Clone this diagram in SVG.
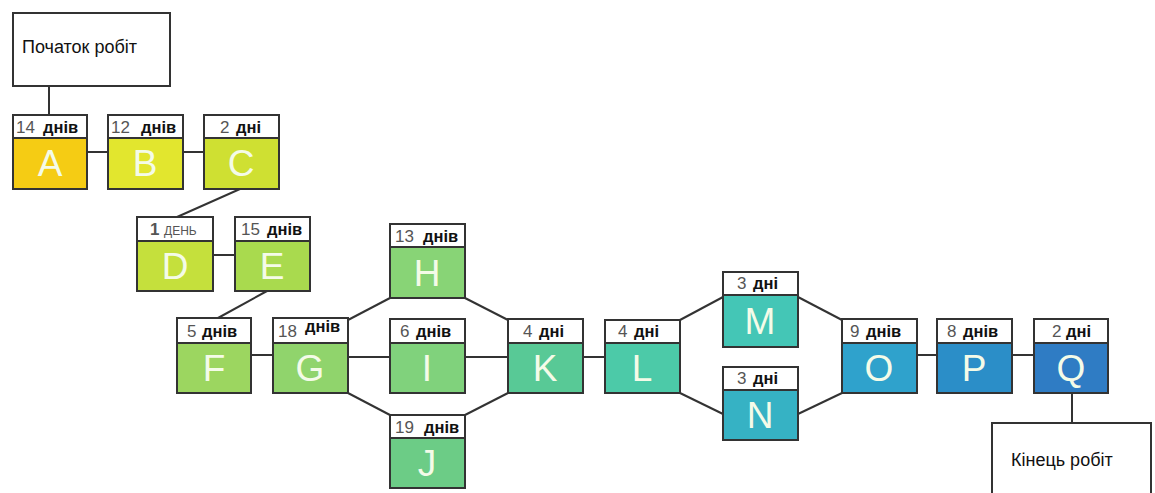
<svg xmlns="http://www.w3.org/2000/svg" width="1155" height="493" viewBox="0 0 1155 493">
<style>
.box{fill:#fff;stroke:#333;stroke-width:2}
.hd{fill:#fff;stroke:#333;stroke-width:2}
.bd{stroke:#333;stroke-width:2}
.num{font-family:"Liberation Sans",Arial,sans-serif;font-size:17px;fill:#555}
.wd{font-family:"Liberation Sans",Arial,sans-serif;font-size:16.5px;font-weight:bold;fill:#111}
.sm{font-family:"Liberation Sans",Arial,sans-serif;font-size:12px;fill:#555}
.let{font-family:"Liberation Sans",Arial,sans-serif;font-size:37px;fill:#f4fbe8;text-anchor:middle}
.lbl{font-family:"Liberation Sans",Arial,sans-serif;font-size:18px;fill:#111}
.cn line{stroke:#333;stroke-width:2}
</style>
<rect width="1155" height="493" fill="#fff"/>
<g class="cn" id="connectors">
<line x1="49" y1="86" x2="49" y2="115"/>
<line x1="88" y1="152" x2="108" y2="152"/>
<line x1="183" y1="152" x2="204" y2="152"/>
<line x1="240" y1="189" x2="177" y2="217"/>
<line x1="212" y1="255" x2="235" y2="255"/>
<line x1="267" y1="291" x2="218" y2="318"/>
<line x1="252" y1="355" x2="273" y2="355"/>
<line x1="348" y1="320" x2="390" y2="298"/>
<line x1="348" y1="357" x2="390" y2="357"/>
<line x1="348" y1="393" x2="390" y2="415"/>
<line x1="465" y1="298" x2="508" y2="320"/>
<line x1="465" y1="357" x2="508" y2="357"/>
<line x1="465" y1="415" x2="508" y2="393"/>
<line x1="583" y1="357" x2="605" y2="357"/>
<line x1="680" y1="320" x2="723" y2="297"/>
<line x1="680" y1="393" x2="723" y2="414"/>
<line x1="798" y1="297" x2="842" y2="320"/>
<line x1="798" y1="414" x2="842" y2="393"/>
<line x1="917" y1="355" x2="937" y2="355"/>
<line x1="1012" y1="355" x2="1034" y2="355"/>
<line x1="1072" y1="393" x2="1072" y2="423"/>
</g>
<g id="start"><rect class="box" x="13" y="13" width="157" height="73"/><text class="lbl" x="22" y="53">Початок робіт</text></g>
<g id="end"><rect class="box" x="992" y="423" width="159" height="80"/><text class="lbl" x="1011" y="466">Кінець робіт</text></g>

<g id="A"><rect class="hd" x="13" y="115" width="74" height="23"/><rect class="bd" x="13" y="138" width="74" height="51" fill="#f5cc14"/><text x="16" y="133"><tspan class="num">14</tspan><tspan class="wd" x="43">днів</tspan></text><text class="let" x="50" y="176">A</text></g>
<g id="B"><rect class="hd" x="108" y="115" width="75" height="23"/><rect class="bd" x="108" y="138" width="75" height="51" fill="#e2e62e"/><text x="111" y="133"><tspan class="num">12</tspan><tspan class="wd" x="141">днів</tspan></text><text class="let" x="145" y="176">B</text></g>
<g id="C"><rect class="hd" x="204" y="115" width="75" height="23"/><rect class="bd" x="204" y="138" width="75" height="51" fill="#cfe032"/><text x="220" y="133"><tspan class="num">2</tspan><tspan class="wd" x="236">дні</tspan></text><text class="let" x="241" y="176">C</text></g>
<g id="D"><rect class="hd" x="137" y="217" width="76" height="24"/><rect class="bd" x="137" y="241" width="76" height="50" fill="#c5e03c"/><text x="150" y="235"><tspan class="num" style="font-weight:bold">1</tspan><tspan class="sm" x="164">ДЕНЬ</tspan></text><text class="let" x="175" y="279">D</text></g>
<g id="E"><rect class="hd" x="235" y="217" width="75" height="24"/><rect class="bd" x="235" y="241" width="75" height="50" fill="#a9da4e"/><text x="241" y="235"><tspan class="num">15</tspan><tspan class="wd" x="267">днів</tspan></text><text class="let" x="272" y="279">E</text></g>
<g id="F"><rect class="hd" x="177" y="318" width="74" height="25"/><rect class="bd" x="177" y="343" width="74" height="50" fill="#9cd660"/><text x="187" y="337"><tspan class="num">5</tspan><tspan class="wd" x="202">днів</tspan></text><text class="let" x="214" y="381">F</text></g>
<g id="G"><rect class="hd" x="273" y="318" width="75" height="25"/><rect class="bd" x="273" y="343" width="75" height="50" fill="#90d46c"/><text x="278" y="337"><tspan class="num">18</tspan><tspan class="wd" x="305" y="332">днів</tspan></text><text class="let" x="310" y="381">G</text></g>
<g id="H"><rect class="hd" x="390" y="224" width="75" height="23"/><rect class="bd" x="390" y="247" width="75" height="51" fill="#88d476"/><text x="395" y="242"><tspan class="num">13</tspan><tspan class="wd" x="423">днів</tspan></text><text class="let" x="427" y="286">H</text></g>
<g id="I"><rect class="hd" x="390" y="319" width="75" height="24"/><rect class="bd" x="390" y="343" width="75" height="50" fill="#80d27c"/><text x="400" y="337"><tspan class="num">6</tspan><tspan class="wd" x="416">днів</tspan></text><text class="let" x="427" y="381">I</text></g>
<g id="J"><rect class="hd" x="390" y="415" width="75" height="23"/><rect class="bd" x="390" y="438" width="75" height="50" fill="#6ccc86"/><text x="395" y="433"><tspan class="num">19</tspan><tspan class="wd" x="424">днів</tspan></text><text class="let" x="427" y="476">J</text></g>
<g id="K"><rect class="hd" x="508" y="319" width="75" height="24"/><rect class="bd" x="508" y="343" width="75" height="50" fill="#58c996"/><text x="523" y="337"><tspan class="num">4</tspan><tspan class="wd" x="539">дні</tspan></text><text class="let" x="545" y="381">K</text></g>
<g id="L"><rect class="hd" x="605" y="320" width="75" height="23"/><rect class="bd" x="605" y="343" width="75" height="50" fill="#4ccaa8"/><text x="618" y="337"><tspan class="num">4</tspan><tspan class="wd" x="634">дні</tspan></text><text class="let" x="642" y="381">L</text></g>
<g id="M"><rect class="hd" x="723" y="272" width="75" height="23"/><rect class="bd" x="723" y="295" width="75" height="52" fill="#44c6b6"/><text x="737" y="289"><tspan class="num">3</tspan><tspan class="wd" x="753">дні</tspan></text><text class="let" x="760" y="334">M</text></g>
<g id="N"><rect class="hd" x="723" y="367" width="75" height="23"/><rect class="bd" x="723" y="390" width="75" height="50" fill="#36b2c4"/><text x="737" y="384"><tspan class="num">3</tspan><tspan class="wd" x="753">дні</tspan></text><text class="let" x="760" y="428">N</text></g>
<g id="O"><rect class="hd" x="842" y="319" width="75" height="24"/><rect class="bd" x="842" y="343" width="75" height="50" fill="#2fa2cc"/><text x="850" y="337"><tspan class="num">9</tspan><tspan class="wd" x="866">днів</tspan></text><text class="let" x="879" y="381">O</text></g>
<g id="P"><rect class="hd" x="937" y="319" width="75" height="24"/><rect class="bd" x="937" y="343" width="75" height="50" fill="#2b8ec8"/><text x="947" y="337"><tspan class="num">8</tspan><tspan class="wd" x="963">днів</tspan></text><text class="let" x="974" y="381">P</text></g>
<g id="Q"><rect class="hd" x="1034" y="319" width="74" height="24"/><rect class="bd" x="1034" y="343" width="74" height="50" fill="#2f7cc4"/><text x="1052" y="337"><tspan class="num">2</tspan><tspan class="wd" x="1066">дні</tspan></text><text class="let" x="1071" y="381">Q</text></g>
</svg>
